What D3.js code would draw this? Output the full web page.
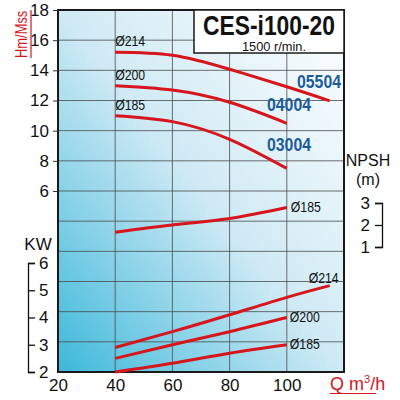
<!DOCTYPE html>
<html>
<head>
<meta charset="utf-8">
<script src="https://cdn.jsdelivr.net/npm/d3@7"></script>
<style>
  body { margin:0; background:#fff; }
  svg text { font-family: "Liberation Sans", Arial, sans-serif; }
</style>
</head>
<body>
<div class="chart-area"></div>
<script>
// flow values (m3/h) where the curves were read
var qShort = [40, 60, 80, 100];
var qLong  = [40, 60, 80, 100, 115];

// head curves (Hm)
var head214 = [15.2, 15.0, 14.07, 12.91, 11.98];
var head200 = [12.98, 12.69, 11.88, 10.49];
var head185 = [10.99, 10.6, 9.43, 7.5];

// NPSH curve (m)
var npsh185 = [1.67, 2.0, 2.3, 2.8];

// power curves (kW)
var kw214 = [2.9, 3.48, 4.1, 4.74, 5.17];
var kw200 = [2.5, 3.0, 3.48, 4.0];
var kw185 = [2.0, 2.32, 2.69, 3.0];

var xTicks    = [20, 40, 60, 80, 100];
var headTicks = [6, 8, 10, 12, 14, 16, 18];
var kwTicks   = [2, 3, 4, 5, 6];
var npshTicks = [1, 2, 3];
var models    = ["05504", "04004", "03004"];

var svg = d3.select(".chart-area").append("svg")
    .attr("width", 400).attr("height", 400);

var x = d3.scaleLinear().domain([20, 120]).range([58, 344]);
var yH = d3.scaleLinear().domain([-6, 18]).range([372, 10]);
var yKW = d3.scaleLinear().domain([2, 6]).range([372, 263]);
var yN = d3.scaleLinear().domain([1, 3]).range([247, 203]);

var red = "#d7151c", blue = "#1b5c9c";

// background gradient
var grad = svg.append("defs").append("linearGradient")
    .attr("id", "bg").attr("x1", 0).attr("y1", 1).attr("x2", 1).attr("y2", 0);
grad.append("stop").attr("offset", "0").attr("stop-color", "#3db8da");
grad.append("stop").attr("offset", "0.5").attr("stop-color", "#cfeaf5");
grad.append("stop").attr("offset", "1").attr("stop-color", "#ffffff");

svg.append("rect")
    .attr("x", x(20)).attr("y", yH(18))
    .attr("width", x(120) - x(20)).attr("height", yH(-6) - yH(18))
    .attr("fill", "url(#bg)");

// grid
svg.append("g").selectAll("line").data(d3.range(40, 120, 20)).join("line")
    .attr("x1", d => x(d)).attr("x2", d => x(d))
    .attr("y1", yH(18)).attr("y2", yH(-6))
    .attr("stroke", "#4a4a4a").attr("stroke-width", 0.8);
svg.append("g").selectAll("line").data(d3.range(-4, 18, 2)).join("line")
    .attr("x1", x(20)).attr("x2", x(120))
    .attr("y1", d => yH(d)).attr("y2", d => yH(d))
    .attr("stroke", "#4a4a4a").attr("stroke-width", 0.8);

svg.append("rect")
    .attr("x", x(20)).attr("y", yH(18))
    .attr("width", x(120) - x(20)).attr("height", yH(-6) - yH(18))
    .attr("fill", "none").attr("stroke", "#1a1a1a").attr("stroke-width", 2);

// title box
svg.append("rect")
    .attr("x", 194).attr("y", yH(18))
    .attr("width", x(120) - 194).attr("height", 43)
    .attr("fill", "#fff").attr("stroke", "#1a1a1a").attr("stroke-width", 1.5);
svg.append("text")
    .attr("x", 203).attr("y", 34.5)
    .attr("textLength", 132).attr("lengthAdjust", "spacingAndGlyphs")
    .style("font-size", "27px").style("font-weight", "bold").style("fill", "#111")
    .text("CES-i100-20");
svg.append("text")
    .attr("x", 274).attr("y", 50.5).attr("text-anchor", "middle")
    .attr("textLength", 64).attr("lengthAdjust", "spacingAndGlyphs")
    .style("font-size", "12px").style("fill", "#111")
    .text("1500 r/min.");

// curves
var line = function(xs, ys, scale) {
    return d3.line()
        .x(function(d, i){ return x(xs[i]); })
        .y(function(d){ return scale(d); })
        .curve(d3.curveNatural)(ys);
};
var curves = [
    [qLong, head214, yH], [qShort, head200, yH], [qShort, head185, yH],
    [qShort, npsh185, yN],
    [qLong, kw214, yKW], [qShort, kw200, yKW], [qShort, kw185, yKW]
];
svg.append("g").selectAll("path").data(curves).join("path")
    .attr("d", d => line(d[0], d[1], d[2]))
    .attr("fill", "none").attr("stroke", red).attr("stroke-width", 3)
    .attr("stroke-linecap", "butt");

// curve labels
var labels = [
    ["Ø214", x(40), yH(head214[0]) - 6, "start"],
    ["Ø200", x(40), yH(head200[0]) - 6, "start"],
    ["Ø185", x(40), yH(head185[0]) - 6, "start"],
    ["Ø185", x(100) + 4, yN(npsh185[3]) + 5, "start"],
    ["Ø214", x(115) + 9, yKW(kw214[4]) - 3, "end"],
    ["Ø200", x(100) + 3, yKW(kw200[3]) + 4, "start"],
    ["Ø185", x(100) + 3, yKW(kw185[3]) + 4, "start"]
];
svg.append("g").selectAll("text").data(labels).join("text")
    .attr("x", d => d[1]).attr("y", d => d[2]).attr("text-anchor", d => d[3])
    .attr("textLength", 30).attr("lengthAdjust", "spacingAndGlyphs")
    .style("font-size", "14px").style("fill", "#111")
    .text(d => d[0]);

// model labels
var modelPos = [[297, 88], [267, 111], [267, 151]];
svg.append("g").selectAll("text").data(models).join("text")
    .attr("x", (d, i) => modelPos[i][0]).attr("y", (d, i) => modelPos[i][1])
    .attr("textLength", 44).attr("lengthAdjust", "spacingAndGlyphs")
    .style("font-size", "19px").style("font-weight", "bold").style("fill", blue)
    .text(d => d);

// head axis
var gH = svg.append("g").attr("transform", "translate(" + x(20) + ",0)")
    .call(d3.axisLeft(yH).tickValues(headTicks).tickSize(5).tickSizeOuter(0).tickPadding(4));
gH.select(".domain").remove();
gH.selectAll("line").attr("stroke", "#333");
gH.selectAll("text").style("font-size", "17px").style("fill", "#111");

// flow axis
var gX = svg.append("g").attr("transform", "translate(0," + yH(-6) + ")")
    .call(d3.axisBottom(x).tickValues(xTicks).tickSize(0).tickPadding(7));
gX.select(".domain").remove();
gX.selectAll("text").style("font-size", "17px").style("fill", "#111");

// kW axis (bracket)
var gK = svg.append("g").attr("transform", "translate(28,0)")
    .call(d3.axisRight(yKW).tickValues(kwTicks).tickFormat(d3.format("d"))
        .tickSize(7).tickSizeOuter(7).tickPadding(4));
gK.selectAll("path, line").attr("stroke", "#111").attr("stroke-width", 1.3);
gK.selectAll("text").style("font-size", "17px").style("fill", "#111");
svg.append("text").attr("x", 38).attr("y", 250).attr("text-anchor", "middle")
    .style("font-size", "17px").style("fill", "#111").text("KW");

// NPSH axis (bracket)
var gN = svg.append("g").attr("transform", "translate(382,0)")
    .call(d3.axisLeft(yN).tickValues(npshTicks).tickFormat(d3.format("d"))
        .tickSize(7).tickSizeOuter(7).tickPadding(5));
gN.selectAll("path, line").attr("stroke", "#111").attr("stroke-width", 1.3);
gN.selectAll("text").style("font-size", "17px").style("fill", "#111");
svg.append("text").attr("x", 368).attr("y", 166).attr("text-anchor", "middle")
    .style("font-size", "16px").style("fill", "#111").text("NPSH");
svg.append("text").attr("x", 368).attr("y", 185).attr("text-anchor", "middle")
    .style("font-size", "16px").style("fill", "#111").text("(m)");

// axis titles
svg.append("text")
    .attr("transform", "translate(27,58) rotate(-90) scale(0.76,1)")
    .style("font-size", "17px").style("fill", red)
    .text("Hm/Mss");
svg.append("line").attr("x1", 31).attr("x2", 31).attr("y1", 10).attr("y2", 58)
    .attr("stroke", red).attr("stroke-width", 1.2);

var qt = svg.append("text").attr("x", 330).attr("y", 390)
    .style("font-size", "18px").style("fill", red);
qt.append("tspan").text("Q m");
qt.append("tspan").attr("dy", -7).style("font-size", "11px").text("3");
qt.append("tspan").attr("dy", 7).text("/h");
svg.append("line").attr("x1", 330).attr("x2", 376).attr("y1", 393.5).attr("y2", 393.5)
    .attr("stroke", red).attr("stroke-width", 1.2);
</script>
</body>
</html>
